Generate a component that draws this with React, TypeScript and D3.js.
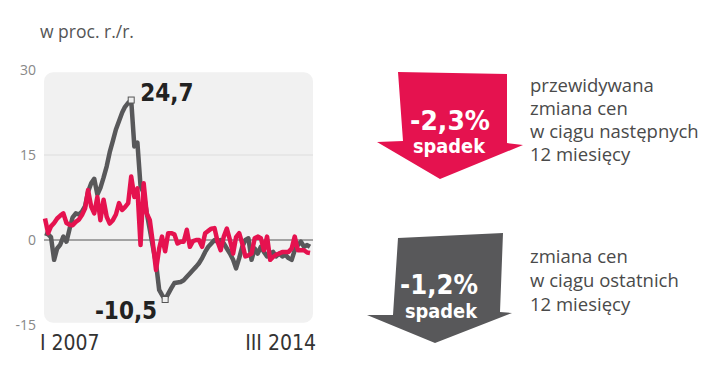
import * as d3 from 'd3';

// monthly, I 2007 .. III 2014
const startMonth = new Date(2007, 0, 1);
const endMonth = new Date(2014, 2, 1);

// zmiana cen w ciągu ostatnich 12 miesięcy (grey)
const pastChange = [
  1.2, 1.0, 0.5, -3.5, -1.5, -0.8, 0.6, -0.3, 2.0, 4.0,
  4.7, 4.5, 5.0, 6.0, 8.5, 10.0, 10.8, 8.0, 9.2, 11.0,
  13.0, 15.5, 17.5, 19.5, 21.0, 22.5, 23.5, 24.2, 24.7, 16.5,
  17.2, 9.5, 8.3, 4.8, 1.8, -1.2, -4.1, -8.8, -9.7, -10.5,
  -9.5, -8.5, -7.6, -7.5, -7.4, -7.1, -6.5, -5.9, -5.3, -4.7,
  -4.1, -3.2, -2.1, -1.2, -0.6, 0.0, -0.3, 0.0, -0.6, -1.5,
  -2.4, -3.5, -5.0, -3.2, -1.2, 0.0, 0.3, -3.5, -1.5, -2.4,
  -1.2, -2.1, -2.9, -2.4, -2.1, -2.9, -2.4, -2.9, -2.6, -3.2,
  -3.5, -1.8, -0.9, -0.3, -1.2, -0.9, -1.2
];

// przewidywana zmiana cen w ciągu następnych 12 miesięcy (red)
const expectedChange = [
  3.8, 1.2, 2.4, 3.0, 3.8, 4.3, 4.7, 3.0, 2.7, 2.6,
  3.2, 3.6, 4.4, 5.6, 8.8, 5.9, 4.7, 7.6, 3.5, 7.1,
  4.1, 2.9, 3.5, 4.5, 6.5, 5.3, 5.8, 6.5, 11.2, 7.6,
  9.1, -0.9, 10.0, 4.7, 3.5, -0.6, -5.3, -1.5, 0.6, -2.0,
  1.2, 1.2, 1.0, -0.6, -0.3, -0.3, 1.8, -1.2, -0.2, 0.0,
  0.0, -1.2, 1.2, 1.6, 2.0, 2.1, -0.3, -1.8, 0.6, 2.0,
  0.0, -2.4, 0.5, 1.2, -0.6, -2.9, -2.7, -2.4, 0.3, 0.6,
  0.3, -1.8, 0.6, -3.5, -3.0, -2.6, -2.4, -2.1, -2.1, -2.1,
  -1.5, 0.6, -1.8, -1.8, -1.8, -2.2, -2.3
];

const yTicks = [30, 15, 0, -15];
const xLabels = ['I 2007', 'III 2014'];
const peakLabel = '24,7';
const troughLabel = '-10,5';

const forecastValue = '-2,3%';
const pastValue = '-1,2%';
const dropWord = 'spadek';
const forecastText = ['przewidywana', 'zmiana cen', 'w ciągu następnych', '12 miesięcy'];
const pastText = ['zmiana cen', 'w ciągu ostatnich', '12 miesięcy'];

const RED = '#e5124f';
const GREY = '#58585a';
const narrow = '"Liberation Sans Narrow", "DejaVu Sans Condensed", sans-serif';
const light = '"Open Sans", "Noto Sans", sans-serif';

const App = () => {
  const months = d3.timeMonth.range(startMonth, d3.timeMonth.offset(endMonth, 1));

  const x = d3.scaleTime().domain([startMonth, endMonth]).range([45, 310]);
  const y = d3.scaleLinear().domain([-15, 30]).range([325, 70]);

  const line = d3
    .line<number>()
    .x((d, i) => x(months[i]))
    .y((d) => y(d));

  const peakIdx = d3.maxIndex(pastChange);
  const troughIdx = d3.minIndex(pastChange);

  const redArrow = [[398, 72], [507, 74], [507, 143], [523, 145], [440, 179], [377, 142], [403, 141]];
  const greyArrow = [[398, 238], [503, 233], [500, 312], [512, 313], [435, 343], [367, 315], [393, 315]];

  return (
    <svg width={720} height={387} style={{ position: 'absolute', left: 0, top: 0, background: '#fff' }}>
      <text x={40} y={38} fontFamily={light} fontSize={17.5} fill="#555">w proc. r./r.</text>

      <rect x={x(startMonth) - 1} y={y(29.6)} width={x(endMonth) - x(startMonth) + 4} height={y(-14.6) - y(29.6)} rx={9} fill="#f1f1f1" />
      <line x1={x(startMonth) - 1} x2={x(endMonth) + 3} y1={y(15)} y2={y(15)} stroke="#dedede" strokeWidth={1.2} />
      <line x1={x(startMonth) - 1} x2={x(endMonth) + 3} y1={y(0)} y2={y(0)} stroke="#555" strokeWidth={1} />

      {yTicks.map((t) => (
        <text key={t} x={36} y={y(t)} dy="0.35em" textAnchor="end" fontFamily={light} fontSize={14} fill="#888">{t}</text>
      ))}

      <path d={line(pastChange) || ''} fill="none" stroke={GREY} strokeWidth={4.5} strokeLinejoin="round" />
      <path d={line(expectedChange) || ''} fill="none" stroke={RED} strokeWidth={4.5} strokeLinejoin="round" />

      {[peakIdx, troughIdx].map((i) => (
        <rect key={i} x={x(months[i]) - 3} y={y(pastChange[i]) - 3} width={6} height={6} fill="#eee" stroke="#555" strokeWidth={1} />
      ))}
      <text x={x(months[peakIdx]) + 9} y={y(pastChange[peakIdx]) + 1} fontFamily={narrow} fontWeight="bold" fontSize={24} fill="#222">{peakLabel}</text>
      <text x={x(months[troughIdx]) - 8} y={y(pastChange[troughIdx]) + 19} textAnchor="end" fontFamily={narrow} fontWeight="bold" fontSize={24} fill="#222">{troughLabel}</text>

      <text x={40} y={350} fontFamily={narrow} fontSize={21} fill="#333">{xLabels[0]}</text>
      <text x={316} y={350} textAnchor="end" fontFamily={narrow} fontSize={21} fill="#333">{xLabels[1]}</text>

      <polygon points={redArrow.map((p) => p.join(',')).join(' ')} fill={RED} />
      <text x={450} y={130} textAnchor="middle" fontFamily={narrow} fontWeight="bold" fontSize={27} fill="#fff" textLength={80} lengthAdjust="spacingAndGlyphs">{forecastValue}</text>
      <text x={449} y={153} textAnchor="middle" fontFamily={narrow} fontWeight="bold" fontSize={20} fill="#fff" textLength={72} lengthAdjust="spacingAndGlyphs">{dropWord}</text>

      <polygon points={greyArrow.map((p) => p.join(',')).join(' ')} fill={GREY} />
      <text x={439} y={294} textAnchor="middle" fontFamily={narrow} fontWeight="bold" fontSize={27} fill="#fff" textLength={78} lengthAdjust="spacingAndGlyphs">{pastValue}</text>
      <text x={441} y={318} textAnchor="middle" fontFamily={narrow} fontWeight="bold" fontSize={20} fill="#fff" textLength={72} lengthAdjust="spacingAndGlyphs">{dropWord}</text>

      {forecastText.map((t, i) => (
        <text key={t} x={530} y={92 + i * 23} fontFamily={light} fontSize={18.5} fill="#4a4a4a">{t}</text>
      ))}
      {pastText.map((t, i) => (
        <text key={t} x={530} y={263 + i * 24} fontFamily={light} fontSize={18.5} fill="#4a4a4a">{t}</text>
      ))}
    </svg>
  );
};

export default App;
